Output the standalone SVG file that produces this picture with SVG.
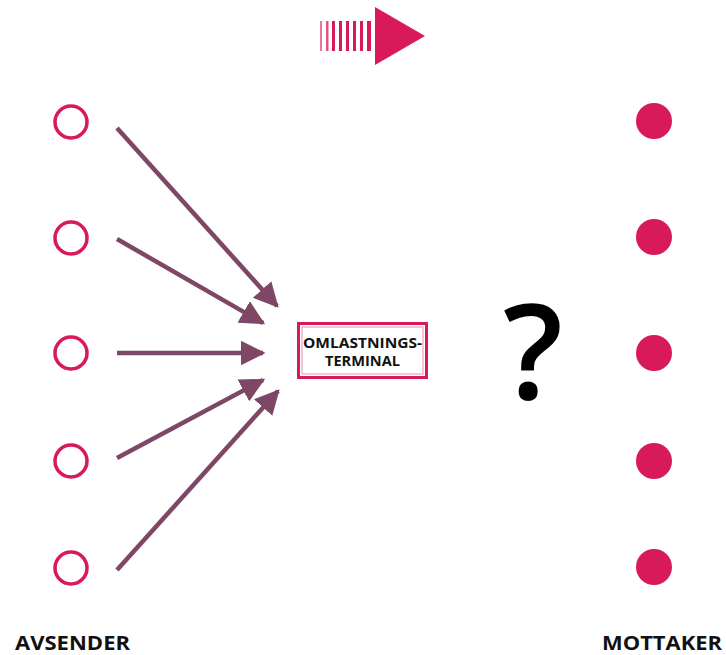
<svg xmlns="http://www.w3.org/2000/svg" width="726" height="655" viewBox="0 0 726 655">
  <style>
    .src { fill: #ffffff; stroke: #d8195a; stroke-width: 3.5; }
    .dst { fill: #d8195a; }
    .link { stroke: #7e4765; stroke-width: 4.5; fill: none; marker-end: url(#head); }
    .label { font-family: "Open Sans", "Liberation Sans", sans-serif; font-weight: 700; fill: #111111; }
  </style>
  <defs>
    <marker id="head" viewBox="0 0 10 10" refX="9" refY="5" markerWidth="5.5" markerHeight="5.5" orient="auto" markerUnits="strokeWidth">
      <path d="M0,0 L10,5 L0,10 z" fill="#7e4765"/>
    </marker>
  </defs>
  <rect width="726" height="655" fill="#ffffff"/>

  <!-- direction arrow -->
  <g id="direction">
    <g fill="#d8195a">
      <rect x="320" y="21" width="2" height="30" opacity="0.6"/>
      <rect x="326" y="21" width="2.5" height="30" opacity="0.75"/>
      <rect x="332" y="21" width="3" height="30"/>
      <rect x="339" y="21" width="3" height="30"/>
      <rect x="346" y="21" width="3" height="30"/>
      <rect x="353" y="21" width="3" height="30"/>
      <rect x="360" y="21" width="3" height="30"/>
      <rect x="367" y="21" width="4" height="30"/>
      <path d="M375,7 L425,36 L375,65 z"/>
    </g>
  </g>

  <!-- senders -->
  <g id="sender1"><circle class="src" cx="71" cy="122" r="16"/></g>
  <g id="sender2"><circle class="src" cx="71" cy="238" r="16"/></g>
  <g id="sender3"><circle class="src" cx="71" cy="353" r="16"/></g>
  <g id="sender4"><circle class="src" cx="71" cy="461" r="16"/></g>
  <g id="sender5"><circle class="src" cx="71" cy="568" r="16"/></g>

  <!-- receivers -->
  <g id="receiver1"><circle class="dst" cx="654" cy="121" r="18"/></g>
  <g id="receiver2"><circle class="dst" cx="654" cy="237" r="18"/></g>
  <g id="receiver3"><circle class="dst" cx="654" cy="353" r="18"/></g>
  <g id="receiver4"><circle class="dst" cx="654" cy="461" r="18"/></g>
  <g id="receiver5"><circle class="dst" cx="654" cy="567" r="18"/></g>

  <!-- connectors into the terminal -->
  <g id="connectors">
    <line class="link" x1="117" y1="128" x2="277" y2="306"/>
    <line class="link" x1="117" y1="239" x2="263" y2="323"/>
    <line class="link" x1="117" y1="353" x2="263" y2="353"/>
    <line class="link" x1="117" y1="458" x2="263" y2="380"/>
    <line class="link" x1="117" y1="570" x2="278" y2="391"/>
  </g>

  <!-- transshipment terminal -->
  <g id="terminal">
    <rect x="298.5" y="323.5" width="128" height="54" fill="#ffffff" stroke="#d8195a" stroke-width="3"/>
    <rect x="302" y="327" width="121" height="47" fill="none" stroke="#d8195a" stroke-width="0.8" opacity="0.6"/>
    <text class="label" x="303" y="348" font-size="13.5" textLength="119" lengthAdjust="spacingAndGlyphs">OMLASTNINGS-</text>
    <text class="label" x="325" y="366" font-size="13.5" textLength="75" lengthAdjust="spacingAndGlyphs">TERMINAL</text>
  </g>

  <!-- open question -->
  <g id="question">
    <text x="533" y="399" font-family="'Open Sans', 'Liberation Sans', sans-serif" font-weight="600" font-size="132" text-anchor="middle" fill="#000000">?</text>
  </g>

  <!-- axis labels -->
  <g id="label-sender">
    <text class="label" x="15" y="650" font-size="19" textLength="115" lengthAdjust="spacingAndGlyphs">AVSENDER</text>
  </g>
  <g id="label-receiver">
    <text class="label" x="602" y="650" font-size="19" textLength="120" lengthAdjust="spacingAndGlyphs">MOTTAKER</text>
  </g>
</svg>
